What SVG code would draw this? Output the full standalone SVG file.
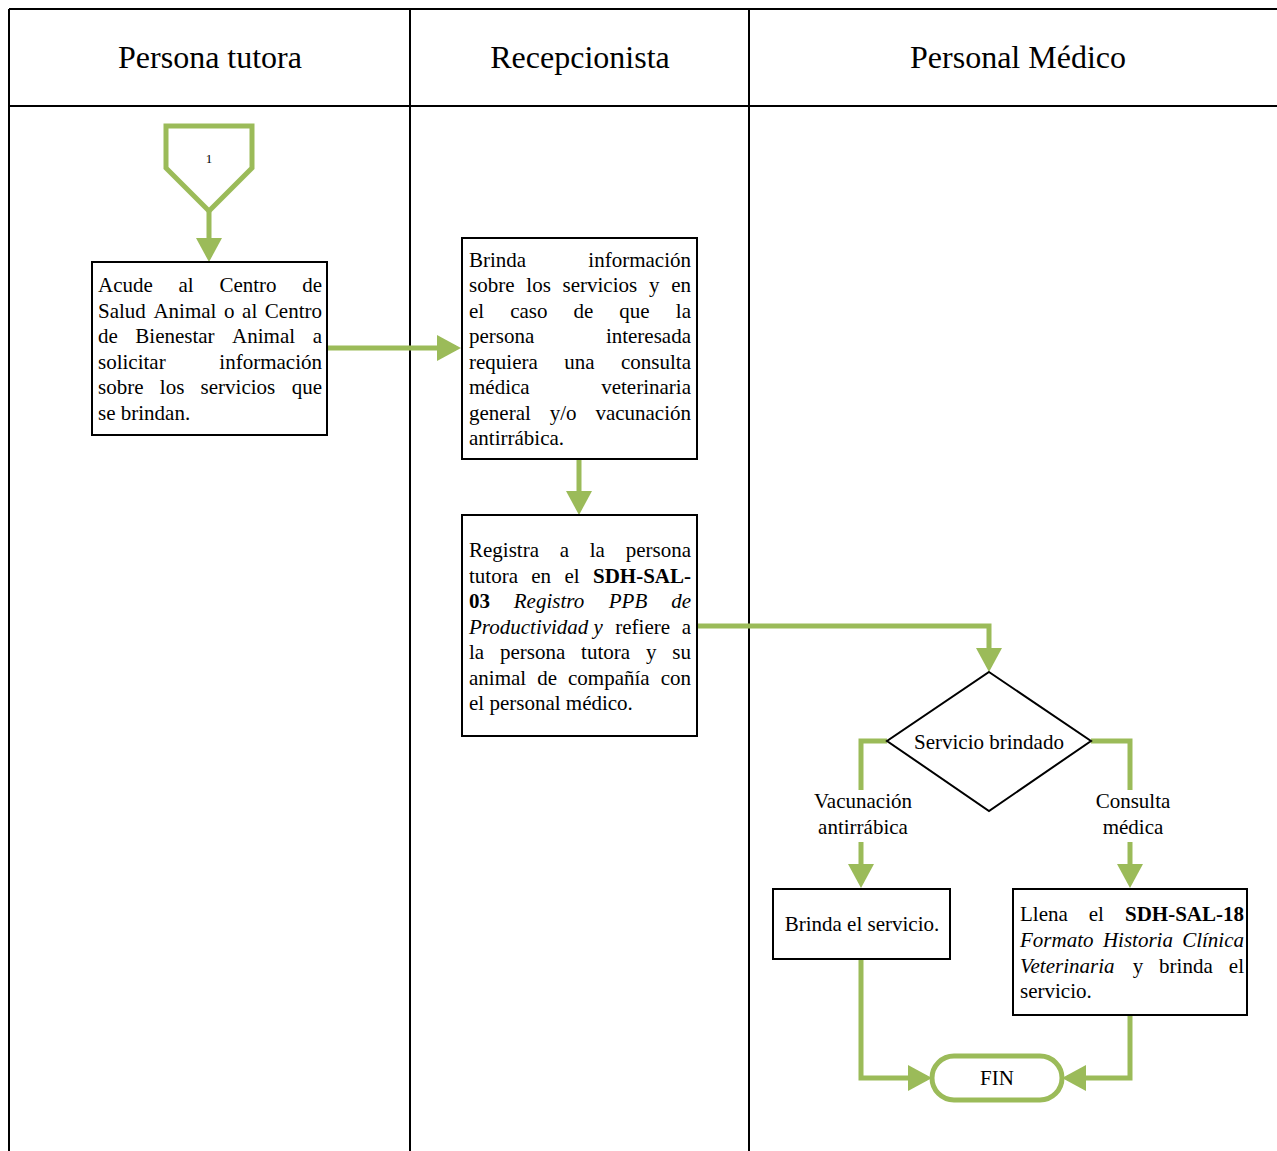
<svg xmlns="http://www.w3.org/2000/svg" width="1277" height="1151" viewBox="0 0 1277 1151">
  <defs>
    <style>
      .grid { stroke: #000; stroke-width: 2; fill: none; }
      .box { fill: #fff; stroke: #000; stroke-width: 2; }
      .green { fill: #fff; stroke: #9BBB59; stroke-width: 5; }
      .conn { fill: none; stroke: #9BBB59; stroke-width: 5; stroke-linejoin: miter; }
      .arr { marker-end: url(#head); }
      text { font-family: "Liberation Serif", "DejaVu Serif", serif; fill: #000; }
      .hdr { font-size: 32px; text-anchor: middle; }
      .t { font-size: 21px; }
      .c { text-anchor: middle; }
      .e { text-anchor: end; }
      .b { font-weight: bold; }
      .i { font-style: italic; }
    </style>
    <marker id="head" viewBox="0 0 24 26" refX="19" refY="13" markerWidth="24" markerHeight="26" markerUnits="userSpaceOnUse" orient="auto">
      <path d="M0,0 L24,13 L0,26 z" fill="#9BBB59"/>
    </marker>
  </defs>

  <rect width="1277" height="1151" fill="#fff"/>

  <!-- swimlane table -->
  <g id="lanes">
    <path class="grid" d="M9,9 H1277 M9,106 H1277 M9,9 V1151 M410,9 V1151 M749,9 V1151"/>
    <text class="hdr" x="210" y="68">Persona tutora</text>
    <text class="hdr" x="580" y="68">Recepcionista</text>
    <text class="hdr" x="1018" y="68">Personal Médico</text>
  </g>

  <!-- connectors -->
  <g id="connectors">
    <path class="conn arr" d="M209,211 V257"/>
    <path class="conn arr" d="M327,348 H456"/>
    <path class="conn arr" d="M579,459 V510"/>
    <path class="conn arr" d="M697,626 H989 V667"/>
    <path class="conn" d="M887,741 H861 V790"/>
    <path class="conn arr" d="M861,842 V883"/>
    <path class="conn" d="M1091,741 H1130 V790"/>
    <path class="conn arr" d="M1130,842 V883"/>
    <path class="conn arr" d="M861,959 V1078 H927"/>
    <path class="conn arr" d="M1130,1015 V1078 H1067"/>
    <text class="t c" x="863" y="808">Vacunación</text>
    <text class="t c" x="863" y="834">antirrábica</text>
    <text class="t c" x="1133" y="808">Consulta</text>
    <text class="t c" x="1133" y="834">médica</text>
  </g>

  <!-- off-page connector 1 -->
  <g id="start">
    <path class="green" d="M166,126 H252 V168 L209,211 L166,168 Z"/>
    <text x="209" y="163" font-size="13" text-anchor="middle">1</text>
  </g>

  <!-- justified paragraphs: one text per word, first word flush left, last flush right -->
  <g id="acude">
    <rect class="box" x="92" y="262" width="235" height="173"/>
    <text class="t" x="98" y="292">Acude</text>
    <text class="t" x="178.5" y="292">al</text>
    <text class="t" x="219.4" y="292">Centro</text>
    <text class="t e" x="322" y="292">de</text>
    <text class="t" x="98" y="318">Salud</text>
    <text class="t" x="153.4" y="318">Animal</text>
    <text class="t" x="224" y="318">o</text>
    <text class="t" x="242.1" y="318">al</text>
    <text class="t e" x="322" y="318">Centro</text>
    <text class="t" x="98" y="343">de</text>
    <text class="t" x="135.3" y="343">Bienestar</text>
    <text class="t" x="232.1" y="343">Animal</text>
    <text class="t e" x="322" y="343">a</text>
    <text class="t" x="98" y="369">solicitar</text>
    <text class="t e" x="322" y="369">información</text>
    <text class="t" x="98" y="394">sobre</text>
    <text class="t" x="159.8" y="394">los</text>
    <text class="t" x="200.6" y="394">servicios</text>
    <text class="t e" x="322" y="394">que</text>
    <text class="t" x="98" y="420">se brindan.</text>
  </g>

  <g id="brinda-info">
    <rect class="box" x="462" y="238" width="235" height="221"/>
    <text class="t" x="469" y="267">Brinda</text>
    <text class="t e" x="691" y="267">información</text>
    <text class="t" x="469" y="292">sobre</text>
    <text class="t" x="526.3" y="292">los</text>
    <text class="t" x="562.5" y="292">servicios</text>
    <text class="t" x="648.9" y="292">y</text>
    <text class="t e" x="691" y="292">en</text>
    <text class="t" x="469" y="318">el</text>
    <text class="t" x="510.2" y="318">caso</text>
    <text class="t" x="573.5" y="318">de</text>
    <text class="t" x="619.3" y="318">que</text>
    <text class="t e" x="691" y="318">la</text>
    <text class="t" x="469" y="343">persona</text>
    <text class="t e" x="691" y="343">interesada</text>
    <text class="t" x="469" y="369">requiera</text>
    <text class="t" x="564.3" y="369">una</text>
    <text class="t e" x="691" y="369">consulta</text>
    <text class="t" x="469" y="394">médica</text>
    <text class="t e" x="691" y="394">veterinaria</text>
    <text class="t" x="469" y="420">general</text>
    <text class="t" x="549.7" y="420">y/o</text>
    <text class="t e" x="691" y="420">vacunación</text>
    <text class="t" x="469" y="445">antirrábica.</text>
  </g>

  <g id="registra">
    <rect class="box" x="462" y="515" width="235" height="221"/>
    <text class="t" x="469" y="557">Registra</text>
    <text class="t" x="559.7" y="557">a</text>
    <text class="t" x="589.7" y="557">la</text>
    <text class="t e" x="691" y="557">persona</text>
    <text class="t" x="469" y="583">tutora</text>
    <text class="t" x="531.3" y="583">en</text>
    <text class="t" x="564.4" y="583">el</text>
    <text class="t b e" x="691" y="583">SDH-SAL-</text>
    <text class="t b" x="469" y="608">03</text>
    <text class="t i" x="513.8" y="608">Registro</text>
    <text class="t i" x="608.8" y="608">PPB</text>
    <text class="t i e" x="691" y="608">de</text>
    <text class="t i" x="469" y="634">Productividad y</text>
    <text class="t" x="615.3" y="634">refiere</text>
    <text class="t e" x="691" y="634">a</text>
    <text class="t" x="469" y="659">la</text>
    <text class="t" x="500" y="659">persona</text>
    <text class="t" x="581.1" y="659">tutora</text>
    <text class="t" x="645.9" y="659">y</text>
    <text class="t e" x="691" y="659">su</text>
    <text class="t" x="469" y="685">animal</text>
    <text class="t" x="537.2" y="685">de</text>
    <text class="t" x="568" y="685">compañía</text>
    <text class="t e" x="691" y="685">con</text>
    <text class="t" x="469" y="710">el personal médico.</text>
  </g>

  <g id="decision">
    <path class="box" d="M989,672 L1091,741 L989,811 L887,741 Z"/>
    <text class="t c" x="989" y="749">Servicio brindado</text>
  </g>

  <g id="brinda-servicio">
    <rect class="box" x="773" y="889" width="177" height="70"/>
    <text class="t c" x="862" y="931">Brinda el servicio.</text>
  </g>

  <g id="llena">
    <rect class="box" x="1013" y="889" width="234" height="126"/>
    <text class="t" x="1020" y="921">Llena</text>
    <text class="t" x="1088.8" y="921">el</text>
    <text class="t b e" x="1244" y="921">SDH-SAL-18</text>
    <text class="t i" x="1020" y="947">Formato</text>
    <text class="t i" x="1102.9" y="947">Historia</text>
    <text class="t i e" x="1244" y="947">Clínica</text>
    <text class="t i" x="1020" y="973">Veterinaria</text>
    <text class="t" x="1132.7" y="973">y</text>
    <text class="t" x="1159.1" y="973">brinda</text>
    <text class="t e" x="1244" y="973">el</text>
    <text class="t" x="1020" y="998">servicio.</text>
  </g>

  <g id="fin">
    <rect class="green" x="932" y="1056" width="130" height="44" rx="22"/>
    <text class="t c" x="997" y="1085">FIN</text>
  </g>
</svg>
